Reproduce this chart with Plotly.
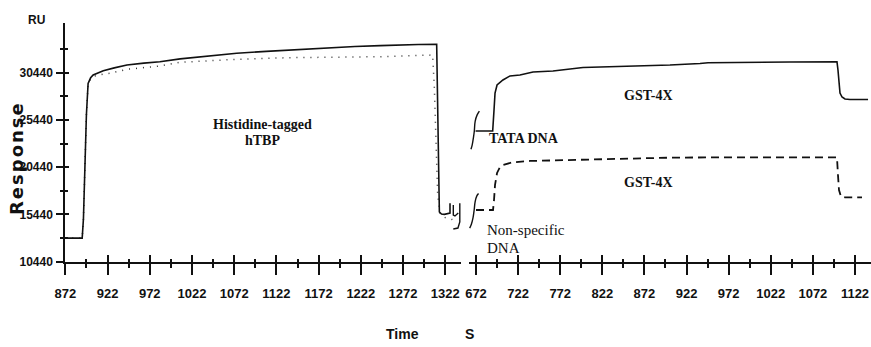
import plotly.graph_objects as go

# ---------------- data ----------------
# Left panel: Histidine-tagged hTBP injection (time in s, response in RU)
left_time_solid = [872, 892, 893.5, 895, 897, 899, 902, 905, 911, 917, 930, 945, 965, 984, 1008,
                   1040, 1075, 1110, 1138, 1160, 1186, 1215, 1245, 1266, 1290, 1311.8,
                   1312.6, 1313.4, 1314.2, 1315.0, 1317.5, 1321, 1327.6, 1327.6]
left_resp_solid = [12940, 12940, 15000, 20000, 26000, 29300, 29900, 30200, 30450, 30650, 30950, 31250, 31450, 31600, 31900,
                   32200, 32500, 32700, 32830, 32980, 33120, 33220, 33300, 33370, 33420, 33440,
                   28000, 22000, 17500, 15700, 15480, 15450, 15590, 16620]
left_time_dotted = [872, 892, 893.5, 895, 897, 899, 902, 905, 917, 925, 945, 984, 1008, 1075, 1138,
                    1245, 1307, 1309, 1311, 1313, 1316, 1322, 1330, 1335]
left_resp_dotted = [12940, 12940, 15000, 20000, 26000, 29200, 29800, 30050, 30300, 30380, 30800, 31150, 31540, 31860, 32030,
                    32130, 32310, 29000, 23000, 17500, 15500, 15100, 14900, 14700]
# break squiggle after the left panel
left_break_time = [1331.5, 1331.5, 1333.5, 1337.4, None, 1339.2, 1339.2, 1337.0, 1331.5]
left_break_resp = [16440, 15380, 15280, 15590, None, 16620, 14640, 14000, 13900]

# Right panel: GST-4X over TATA DNA (solid) and non-specific DNA (dashed)
right_time_tata = [671.5, 691.8, 693.4, 694.6, 697, 704, 712.4, 724.2, 739.7, 763.4, 799, 822.8, 866.7,
                   902.3, 938, 947.5, 1044.8, 1100.6, 1101.8, 1103, 1104.2, 1106.6, 1110.1, 1116, 1137.5]
right_resp_tata = [24270, 24270, 26490, 28290, 29140, 29670, 30100, 30200, 30520, 30620, 30990, 31040, 31200,
                   31250, 31410, 31500, 31570, 31600, 30725, 29140, 28290, 27870, 27660, 27600, 27600]
right_time_nonspec = [672.0, 692.2, 693.4, 694.6, 697, 700.5, 704, 714.7, 736, 783.6, 854.9, 902.3, 973.6,
                      1098.3, 1100.6, 1101.8, 1103, 1105.4, 1110, 1130.3]
right_resp_nonspec = [15910, 15910, 16970, 18560, 19830, 20460, 20670, 20940, 21100, 21200, 21310, 21450, 21490,
                      21490, 21490, 19615, 18030, 17320, 17250, 17250]
# break marks at the start of the right panel
break_top_time = [666.0, 667.5, 669.0, 670.0, 671.0, 673.5, 676.0]
break_top_resp = [22340, 22800, 23600, 24270, 25300, 26000, 26370]
break_low_time = [664.5, 666.5, 668.5, 669.8, 671.0, 673.0, 675.0]
break_low_resp = [14000, 14400, 15100, 15910, 16800, 17400, 17650]

left_ticks = [872, 922, 972, 1022, 1072, 1122, 1172, 1222, 1272, 1322]
left_minor = [897, 947, 997, 1047, 1097, 1147, 1197, 1247, 1297]
right_ticks = [672, 722, 772, 822, 872, 922, 972, 1022, 1072, 1122]
right_minor = [697, 747, 797, 847, 897, 947, 997, 1047, 1097]
y_ticks = [10440, 15440, 20440, 25440, 30440]
y_minor = [12940, 17940, 22940, 27940, 32940]

# ---------------- figure ----------------
W, H = 871, 347
BLACK = "#111111"
SANS = "Liberation Sans, Arial, sans-serif"
SERIF = "Liberation Serif, Times New Roman, serif"

fig = go.Figure()
line_solid = dict(color=BLACK, width=1.6)
fig.add_trace(go.Scatter(x=left_time_dotted, y=left_resp_dotted, mode="lines", xaxis="x", yaxis="y",
                         line=dict(color="#333333", width=1.5, dash="1px,6px"), showlegend=False, hoverinfo="skip"))
fig.add_trace(go.Scatter(x=left_time_solid, y=left_resp_solid, mode="lines", xaxis="x", yaxis="y",
                         line=line_solid, showlegend=False))
fig.add_trace(go.Scatter(x=left_break_time, y=left_break_resp, mode="lines", xaxis="x", yaxis="y",
                         line=dict(color=BLACK, width=1.4), showlegend=False, hoverinfo="skip"))
fig.add_trace(go.Scatter(x=right_time_tata, y=right_resp_tata, mode="lines", xaxis="x2", yaxis="y",
                         line=line_solid, showlegend=False))
fig.add_trace(go.Scatter(x=right_time_nonspec, y=right_resp_nonspec, mode="lines", xaxis="x2", yaxis="y",
                         line=dict(color=BLACK, width=1.8, dash="8px,5px"), showlegend=False))
fig.add_trace(go.Scatter(x=break_top_time, y=break_top_resp, mode="lines", xaxis="x2", yaxis="y",
                         line=dict(color=BLACK, width=1.4, shape="spline"), showlegend=False, hoverinfo="skip"))
fig.add_trace(go.Scatter(x=break_low_time, y=break_low_resp, mode="lines", xaxis="x2", yaxis="y",
                         line=dict(color=BLACK, width=1.4, shape="spline"), showlegend=False, hoverinfo="skip"))
# empty traces to carry the overlay tick axes
fig.add_trace(go.Scatter(x=[None], y=[None], xaxis="x3", yaxis="y", showlegend=False, hoverinfo="skip"))
fig.add_trace(go.Scatter(x=[None], y=[None], xaxis="x4", yaxis="y", showlegend=False, hoverinfo="skip"))
fig.add_trace(go.Scatter(x=[None], y=[None], xaxis="x", yaxis="y2", showlegend=False, hoverinfo="skip"))

LPX, RPX = 0.8444, 0.8422
x_left_range = [872, 872 + (461 - 65.3) / LPX]
x_right_range = [672 - (476 - 469) / RPX, 672 + (871 - 476) / RPX]
y_range = [10440, 10440 + (261.7 - 23) / 47.25 * 5000]

tickfont_x = dict(family=SANS, size=13, color=BLACK, weight=700)
tickfont_y = dict(family=SANS, size=12, color=BLACK, weight=700)

common_x = dict(showgrid=False, zeroline=False, anchor="y", tickmode="array", automargin=False,
                tickcolor=BLACK, tickwidth=2, fixedrange=True)

fig.update_layout(
    width=W, height=H, margin=dict(l=0, r=0, t=0, b=0, autoexpand=False),
    paper_bgcolor="white", plot_bgcolor="white",
    xaxis=dict(**common_x, domain=[65.3 / W, 461 / W], range=x_left_range,
               tickvals=left_ticks, ticktext=[str(t) for t in left_ticks],
               ticks="outside", ticklen=11, tickfont=tickfont_x, ticklabelstandoff=8,
               showline=True, linecolor=BLACK, linewidth=2,
               minor=dict(tickmode="array", tickvals=left_minor, ticks="outside", ticklen=4,
                          tickwidth=2, tickcolor=BLACK)),
    xaxis2=dict(**common_x, domain=[469 / W, 1.0], range=x_right_range,
                tickvals=right_ticks, ticktext=[str(t) for t in right_ticks],
                ticks="outside", ticklen=11, tickfont=tickfont_x, ticklabelstandoff=8,
                showline=True, linecolor=BLACK, linewidth=2,
                minor=dict(tickmode="array", tickvals=right_minor, ticks="outside", ticklen=4,
                           tickwidth=2, tickcolor=BLACK)),
    xaxis3=dict(**common_x, overlaying="x", range=x_left_range, tickvals=left_ticks,
                ticks="inside", ticklen=7, showticklabels=False, showline=False,
                minor=dict(tickmode="array", tickvals=left_minor, ticks="inside", ticklen=3,
                           tickwidth=2, tickcolor=BLACK)),
    xaxis4=dict(**common_x, overlaying="x2", range=x_right_range, tickvals=right_ticks,
                ticks="inside", ticklen=7, showticklabels=False, showline=False,
                minor=dict(tickmode="array", tickvals=right_minor, ticks="inside", ticklen=3,
                           tickwidth=2, tickcolor=BLACK)),
    yaxis=dict(domain=[1 - 261.7 / H, 1 - 23 / H], range=y_range, anchor="x", automargin=False,
               tickmode="array", tickvals=y_ticks, ticktext=[str(v) for v in y_ticks],
               ticks="outside", ticklen=7, tickwidth=2, tickcolor=BLACK,
               tickfont=tickfont_y, ticklabelstandoff=1,
               showline=True, linecolor=BLACK, linewidth=2,
               showgrid=False, zeroline=False, fixedrange=True,
               minor=dict(tickmode="array", tickvals=y_minor, ticks="outside", ticklen=3,
                          tickwidth=2, tickcolor=BLACK)),
    yaxis2=dict(overlaying="y", anchor="x", side="left", range=y_range, automargin=False,
                tickmode="array", tickvals=y_ticks, ticks="inside", ticklen=4, tickwidth=2,
                tickcolor=BLACK, showticklabels=False, showline=False, showgrid=False,
                zeroline=False, fixedrange=True,
                minor=dict(tickmode="array", tickvals=y_minor, ticks="inside", ticklen=3,
                           tickwidth=2, tickcolor=BLACK)),
)

def note(text, x, y, xref="x", size=14, bold=True, xanchor="center", family=SERIF):
    fig.add_annotation(text=text, x=x, y=y, xref=xref, yref="y", showarrow=False,
                       xanchor=xanchor, yanchor="middle",
                       font=dict(family=family, size=size, color=BLACK, weight=700 if bold else 400))

note("Histidine-tagged", 1106, 24910, "x", 14)
note("hTBP", 1106, 23220, "x", 14)
note("GST-4X", 877, 28080, "x2", 14)
note("TATA DNA", 729, 23530, "x2", 14)
note("GST-4X", 877, 18770, "x2", 14)
note("Non-specific", 682.7, 13795, "x2", 15, bold=False, xanchor="left")
note("DNA", 682.7, 11890, "x2", 15, bold=False, xanchor="left")

def paper_text(text, px, py, size, family=SANS, angle=0):
    fig.add_annotation(text=text, x=px / W, y=1 - py / H, xref="paper", yref="paper",
                       showarrow=False, xanchor="center", yanchor="middle", textangle=angle,
                       font=dict(family=family, size=size, color=BLACK, weight=700))

paper_text("RU", 36, 20, 12)
paper_text("<span style='letter-spacing:2px'>Response</span>", 16, 158, 18,
           family="DejaVu Sans, sans-serif", angle=-90)
paper_text("Time", 402, 334, 14)
paper_text("S", 470, 334, 14)

fig.write_html("out.html", config={"displayModeBar": False},
               post_script="document.body.style.margin='0';document.body.style.overflow='hidden';")
